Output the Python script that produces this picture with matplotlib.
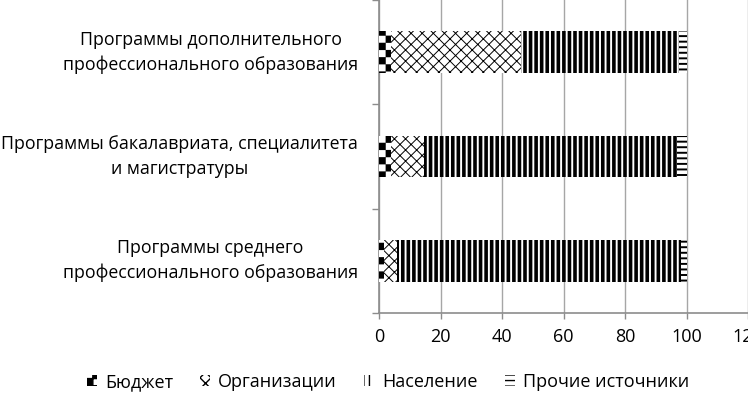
import warnings
warnings.filterwarnings("ignore")
import numpy as np
import matplotlib
matplotlib.use("Agg")
import matplotlib.pyplot as plt
import matplotlib.hatch as mhatch
from matplotlib.path import Path

categories = ["Программы среднего\nпрофессионального образования",
              "Программы бакалавриата, специалитета\nи магистратуры",
              "Программы дополнительного\nпрофессионального образования"]
series_names = ["Бюджет", "Организации", "Население", "Прочие источники"]
budget = [1.5, 4.0, 4.0]
organizations = [4.4, 10.7, 42.2]
population = [92.3, 82.3, 51.5]
others = [1.8, 3.0, 2.3]
xticks = [0, 20, 40, 60, 80, 100, 120]


class CheckerHatch(mhatch.HatchPatternBase):
    def __init__(self, hatch, density):
        self.n = hatch.count('c') * 7
        self.num_vertices = 2 * self.n * self.n * 5

    def set_vertices_and_codes(self, vertices, codes):
        n = self.n
        s = 1.0 / (2 * n)
        k = 0
        for i in range(2 * n):
            for j in range(2 * n):
                if (i + j) % 2 == 0:
                    x0, y0 = i * s, j * s
                    vertices[k:k + 5] = [(x0, y0), (x0 + s, y0), (x0 + s, y0 + s),
                                         (x0, y0 + s), (x0, y0)]
                    codes[k:k + 5] = [Path.MOVETO, Path.LINETO, Path.LINETO,
                                      Path.LINETO, Path.CLOSEPOLY]
                    k += 5


mhatch._hatch_types.append(CheckerHatch)

plt.rcParams['font.family'] = ['Open Sans', 'DejaVu Sans']

fig = plt.figure(figsize=(7.48, 3.93), dpi=100)
ax = fig.add_axes([379 / 748, 1 - 313 / 393, 1 - 379 / 748, 313 / 393])

y = np.arange(len(categories))
data = [budget, organizations, population, others]
hatches = ['c', 'xxx', '|||', '---']
hlw = [0.1, 0.7, 2.6, 1.4]
left = np.zeros(len(categories))
for name, vals, h, lw in zip(series_names, data, hatches, hlw):
    with plt.rc_context({'hatch.linewidth': lw}):
        bars = ax.barh(y, vals, left=left, height=0.4, color='white',
                       edgecolor='black', linewidth=0, hatch=h, label=name, zorder=3)
    for b in bars:
        try:
            b.set_hatch_linewidth(lw)
        except Exception:
            pass
    left += np.array(vals)

ax.set_xlim(0, 120)
ax.set_ylim(-0.5, 2.5)
ax.set_xticks(xticks)
ax.set_yticks(y)
ax.set_yticklabels(categories, multialignment='center', linespacing=1.45, va='center')
ax.set_yticks([-0.5, 0.5, 1.5, 2.5], minor=True)

gray = '#8c8c8c'
ax.grid(axis='x', color='#a6a6a6', linewidth=1.0, zorder=0)
ax.set_axisbelow(True)
for s in ['top', 'right']:
    ax.spines[s].set_visible(False)
for s in ['left', 'bottom']:
    ax.spines[s].set_color(gray)
    ax.spines[s].set_linewidth(1.2)
ax.tick_params(axis='y', which='major', length=0, pad=15, labelsize=12.8, colors='black')
ax.tick_params(axis='y', which='minor', length=5, color=gray, width=1)
ax.tick_params(axis='x', which='major', length=4, color=gray, width=1, labelsize=13, pad=7)

fig.legend(loc='center', bbox_to_anchor=(388 / 748, 1 - 382 / 393), ncol=4, frameon=False,
           fontsize=13, handlelength=0.55, handleheight=0.55, handletextpad=0.45,
           columnspacing=1.5, borderpad=0, borderaxespad=0)

fig.savefig('out.png', dpi=100)
